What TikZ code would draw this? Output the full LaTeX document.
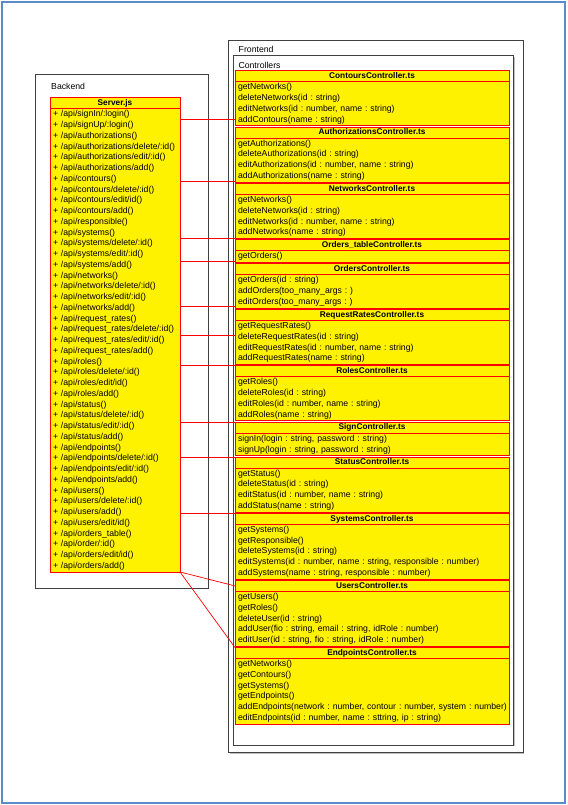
\documentclass[tikz,border=0pt]{standalone}
\usepackage{fontspec}
\setmainfont{Liberation Sans}
\usetikzlibrary{positioning, calc, shadows}

\definecolor{frameblue}{HTML}{5B8BCB}
\newcommand{\mstrut}{\rule[-3.15pt]{0pt}{10.75pt}}
\frenchspacing

\begin{document}
\begin{tikzpicture}[
    x=1pt, y=1pt,
    font=\fontsize{8.7}{10.75}\selectfont,
    pkg/.style={rectangle, draw=black!75, fill=white, line width=0.8pt, inner sep=0pt, outer sep=0pt, anchor=north west, drop shadow={shadow xshift=1.4pt, shadow yshift=-1.4pt, opacity=1, fill=black!25}},
    pkglabel/.style={inner sep=0pt},
    chead/.style={rectangle, draw=red, fill=yellow, line width=0.8pt, inner sep=0pt, outer sep=0pt, minimum width=#1, minimum height=11pt, text height=6.2pt, text depth=1.6pt, font=\fontsize{8.3}{10}\selectfont\bfseries},
    chead/.default=274pt,
    cbody/.style={rectangle, draw=red, fill=yellow, line width=0.8pt, text width=#1, align=left, inner xsep=3pt, inner ysep=0.5pt, outer sep=0pt, execute at begin node=\mstrut, execute at end node=\mstrut},
    cbody/.default=268pt,
    line/.style={draw=red, line width=0.7pt}
]

\useasboundingbox (0,0) rectangle (567,-805);
\draw[frameblue, line width=2pt] (2,-2) rectangle (565,-803);

% Packages
\node[pkg, minimum width=173pt, minimum height=514pt] (backend) at (35,-74) {};
\node[pkglabel, below right=8.5pt and 16pt of backend.north west] (backendlbl) {Backend};
\node[pkg, minimum width=294.5pt, minimum height=712.7pt] (frontend) at (228.5,-40) {};
\node[pkglabel, below right=5.8pt and 10pt of frontend.north west] (frontendlbl) {Frontend};
\node[pkg, minimum width=280.5pt, minimum height=689.3pt] (controllers) at (233,-55.7) {};
\node[pkglabel, below right=6pt and 5.3pt of controllers.north west] (controllerslbl) {Controllers};

% Server
\node[chead=130pt, anchor=north west] (serverhead) at (50,-97.7) {Server.js};
\node[cbody=124pt, below=0pt of serverhead] (server) {+ /api/signIn/:login()\\
+ /api/signUp/:login()\\
+ /api/authorizations()\\
+ /api/authorizations/delete/:id()\\
+ /api/authorizations/edit/:id()\\
+ /api/authorizations/add()\\
+ /api/contours()\\
+ /api/contours/delete/:id()\\
+ /api/contours/edit/id()\\
+ /api/contours/add()\\
+ /api/responsible()\\
+ /api/systems()\\
+ /api/systems/delete/:id()\\
+ /api/systems/edit/:id()\\
+ /api/systems/add()\\
+ /api/networks()\\
+ /api/networks/delete/:id()\\
+ /api/networks/edit/:id()\\
+ /api/networks/add()\\
+ /api/request\_rates()\\
+ /api/request\_rates/delete/:id()\\
+ /api/request\_rates/edit/:id()\\
+ /api/request\_rates/add()\\
+ /api/roles()\\
+ /api/roles/delete/:id()\\
+ /api/roles/edit/id()\\
+ /api/roles/add()\\
+ /api/status()\\
+ /api/status/delete/:id()\\
+ /api/status/edit/:id()\\
+ /api/status/add()\\
+ /api/endpoints()\\
+ /api/endpoints/delete/:id()\\
+ /api/endpoints/edit/:id()\\
+ /api/endpoints/add()\\
+ /api/users()\\
+ /api/users/delete/:id()\\
+ /api/users/add()\\
+ /api/users/edit/id()\\
+ /api/orders\_table()\\
+ /api/order/:id()\\
+ /api/orders/edit/id()\\
+ /api/orders/add()};

% Controllers
\node[chead, anchor=north west] (contourshead) at (235,-70.7) {ContoursController.ts};
\node[cbody, below=0pt of contourshead] (contours) {getNetworks()\\
deleteNetworks(id : string)\\
editNetworks(id : number, name : string)\\
addContours(name : string)};

\node[chead, below=1.35pt of contours] (authhead) {AuthorizationsController.ts};
\node[cbody, below=0pt of authhead] (auth) {getAuthorizations()\\
deleteAuthorizations(id : string)\\
editAuthorizations(id : number, name : string)\\
addAuthorizations(name : string)};

\node[chead, below=1.35pt of auth] (networkshead) {NetworksController.ts};
\node[cbody, below=0pt of networkshead] (networks) {getNetworks()\\
deleteNetworks(id : string)\\
editNetworks(id : number, name : string)\\
addNetworks(name : string)};

\node[chead, below=1.35pt of networks] (ordertablehead) {Orders\_tableController.ts};
\node[cbody, below=0pt of ordertablehead] (ordertable) {getOrders()};

\node[chead, below=1.35pt of ordertable] (ordershead) {OrdersController.ts};
\node[cbody, below=0pt of ordershead] (orders) {getOrders(id : string)\\
addOrders(too\_many\_args : )\\
editOrders(too\_many\_args : )};

\node[chead, below=1.35pt of orders] (rateshead) {RequestRatesController.ts};
\node[cbody, below=0pt of rateshead] (rates) {getRequestRates()\\
deleteRequestRates(id : string)\\
editRequestRates(id : number, name : string)\\
addRequestRates(name : string)};

\node[chead, below=1.35pt of rates] (roleshead) {RolesController.ts};
\node[cbody, below=0pt of roleshead] (roles) {getRoles()\\
deleteRoles(id : string)\\
editRoles(id : number, name : string)\\
addRoles(name : string)};

\node[chead, below=1.35pt of roles] (signhead) {SignController.ts};
\node[cbody, below=0pt of signhead] (sign) {signIn(login : string, password : string)\\
signUp(login : string, password : string)};

\node[chead, below=1.35pt of sign] (statushead) {StatusController.ts};
\node[cbody, below=0pt of statushead] (status) {getStatus()\\
deleteStatus(id : string)\\
editStatus(id : number, name : string)\\
addStatus(name : string)};

\node[chead, below=1.35pt of status] (systemshead) {SystemsController.ts};
\node[cbody, below=0pt of systemshead] (systems) {getSystems()\\
getResponsible()\\
deleteSystems(id : string)\\
editSystems(id : number, name : string, responsible : number)\\
addSystems(name : string, responsible : number)};

\node[chead, below=1.35pt of systems] (usershead) {UsersController.ts};
\node[cbody, below=0pt of usershead] (users) {getUsers()\\
getRoles()\\
deleteUser(id : string)\\
addUser(fio : string, email : string, idRole : number)\\
editUser(id : string, fio : string, idRole : number)};

\node[chead, below=1.35pt of users] (endpointshead) {EndpointsController.ts};
\node[cbody, below=0pt of endpointshead] (endpoints) {getNetworks()\\
getContours()\\
getSystems()\\
getEndpoints()\\
\mbox{addEndpoints(network : number, contour : number, system : number)}\\
editEndpoints(id : number, name : sttring, ip : string)};

% Lines
\coordinate (contoursin) at ([yshift=6pt]contours.south west);
\coordinate (authin) at ([yshift=1pt]auth.south west);
\coordinate (networksin) at (networks.south west);
\coordinate (ordertablein) at ([yshift=1pt]ordertable.south west);
\coordinate (ordersin) at ([yshift=2pt]orders.south west);
\coordinate (ratesin) at ([yshift=-15pt]rates.north west);

\path[line] (server.east |- contoursin) -- (contoursin);
\path[line] (server.east |- authin) -- (authin);
\path[line] (server.east |- networksin) -- (networksin);
\path[line] (server.east |- ordertablein) -- (ordertablein);
\path[line] (server.east |- ordersin) -- (ordersin);
\path[line] (server.east |- ratesin) -- (ratesin);
\path[line] (server.east |- roleshead.north west) -- (roleshead.north west);
\path[line] (server.east |- signhead.north west) -- (signhead.north west);
\path[line] (server.east |- statushead.north west) -- (statushead.north west);
\path[line] (server.east |- systemshead.north west) -- (systemshead.north west);
\path[line] (server.south east) -- (usershead.west);
\path[line] (server.south east) -- (endpointshead.north west);

\end{tikzpicture}
\end{document}
